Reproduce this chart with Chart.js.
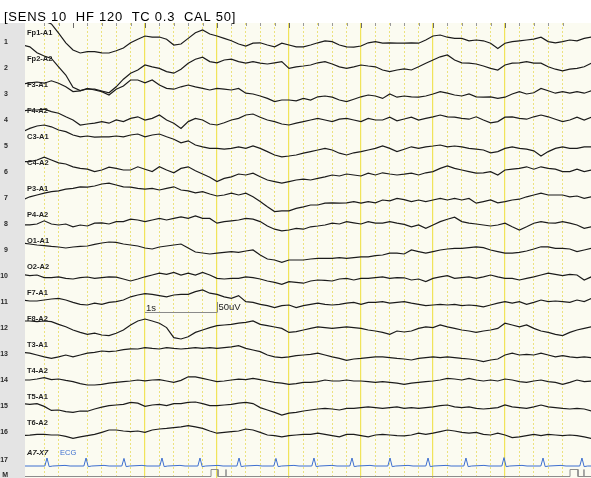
<!DOCTYPE html>
<html>
<head>
<meta charset="utf-8">
<script src="https://cdn.jsdelivr.net/npm/chart.js@4.4.1/dist/chart.umd.min.js"></script>
<style>
  html, body { margin: 0; padding: 0; background: #fff; }
  #wrap { width: 591px; height: 478px; }
</style>
</head>
<body>
<div id="wrap"><canvas id="eeg" width="591" height="478"></canvas></div>
<script>
// montage rows, top to bottom
const channelNames = ['Fp1-A1', 'Fp2-A2', 'F3-A1', 'F4-A2', 'C3-A1', 'C4-A2', 'P3-A1', 'P4-A2',
                      'O1-A1', 'O2-A2', 'F7-A1', 'F8-A2', 'T3-A1', 'T4-A2', 'T5-A1', 'T6-A2'];
const rowNumbers = ['1', '2', '3', '4', '5', '6', '7', '8', '9', '10', '11', '12', '13', '14', '15', '16', '17', 'M'];
const headerText = '[SENS 10  HF 120  TC 0.3  CAL 50]';

// EEG samples: one every 0.1 s starting at 0.3 s, values in uV
const sampleStart = 0.3;
const sampleStep = 0.1;

const fp1 = [160,145,125,105,90,44,-4,-40,-55,-48, -48,-54,-55,-44,-30,-4,14,30,24,25,
             14,-15,-10,18,46,60,40,30,18,6, -10,-20,-6,-4,-15,-24,-6,-15,-24,-24,
             -15,-4,6,2,-15,-24,-26,-20,-4,2, -6,-4,-6,-6,-4,-6,10,30,35,24,
             18,18,6,10,6,-6,-32,-6,2,6, 10,14,24,2,-4,2,10,6,18,25];
const fp2 = [115,106,76,60,48,6,-35,-96,-113,-105, -106,-115,-124,-94,-56,-26,-10,15,6,-2,
             -18,-26,-6,24,44,54,32,26,40,44, 32,24,32,24,20,26,32,-2,6,10,
             15,26,32,20,6,-2,6,15,10,6, -10,-18,-10,-4,-10,6,24,40,56,65,
             40,26,24,20,10,-2,-10,15,24,26, 32,24,24,6,-6,-14,-6,-2,6,24];
const f3 = [50,56,60,54,66,54,36,12,16,28, 20,12,-5,24,40,70,70,56,70,45,
            28,24,36,45,36,28,20,28,24,20, 28,4,0,-10,-22,-38,-30,-30,-34,-22,
            -30,-14,-10,-16,-30,-38,-26,-14,-5,-10, -22,0,-16,-10,-14,-16,-10,0,12,4,
            -5,-10,0,-14,-16,-14,-22,-16,0,12, 0,6,28,16,4,12,4,12,4,16];
const f4 = [46,50,50,54,42,34,16,0,-25,-20, -16,-8,-16,0,-8,8,16,0,8,25,
            0,-16,-42,-8,8,0,-20,-25,-14,0, 8,25,30,14,0,-8,-20,-25,-16,-8,
            0,8,0,-8,4,8,0,-8,8,0, 0,14,-4,5,14,0,8,16,25,16,
            14,8,4,16,0,-14,-8,14,16,8, 4,16,25,16,4,-8,0,14,0,14];
const c3 = [72,88,100,105,96,80,72,55,46,50, 44,46,46,50,46,55,60,46,55,60,
            46,34,16,26,5,-4,-12,-12,-16,-12, -4,-12,0,-12,-28,-45,-54,-50,-45,-36,
            -28,-20,-12,-20,-36,-45,-34,-28,-20,-12, 0,-12,-28,-16,-4,-12,-4,0,5,-4,
            0,-4,-12,-16,-20,-34,-28,-12,-4,-12, -16,-24,-50,-28,-12,-4,-12,-12,-4,-4];
const c4 = [52,52,60,74,60,46,40,26,18,14, 2,10,24,18,10,10,26,14,2,26,
            10,-4,18,26,6,-10,-26,-48,-32,-24, -10,-15,-6,-24,-40,-48,-56,-48,-40,-36,
            -40,-32,-24,-15,-20,-10,-15,-20,-6,-15, -4,-10,-15,-11,-6,-15,-4,2,18,30,
            18,10,2,-6,-4,2,-15,10,14,18, 26,14,26,18,14,2,2,14,2,10];
const p3 = [-10,6,15,24,32,36,44,48,56,54, 60,70,74,65,56,54,48,44,48,40,
            48,56,40,36,26,32,20,10,15,24, 15,24,6,-18,-44,-68,-64,-64,-52,-44,
            -35,-35,-26,-24,-26,-24,-18,-26,-18,-24, -10,-14,-2,-8,-18,-10,-18,-10,-2,-10,
            -2,-10,-2,-26,-18,-10,-24,-18,-10,-6, 6,15,24,15,15,15,6,10,-2,6];
const p4 = [-5,-4,0,16,0,-5,0,-14,-5,-10, 4,6,0,12,12,24,20,12,20,28,
            20,28,36,28,40,28,28,4,12,16, 20,28,24,12,-10,-26,-34,-30,-22,-26,
            -14,-10,-5,4,0,12,6,0,12,4, 4,12,4,-2,-14,-5,-22,-5,12,24,
            34,12,4,0,-5,-10,-5,4,-14,-30, -14,4,12,6,4,12,4,-5,-22,-14];
const o1 = [35,30,25,22,18,15,10,15,18,20, 28,35,40,38,30,25,20,10,5,15,
            20,25,30,10,-10,-15,-20,-16,-12,-8, -12,-5,0,-25,-45,-50,-62,-50,-50,-50,
            -45,-42,-42,-42,-38,-42,-38,-34,-34,-28, -25,-16,-16,-20,0,-8,-16,-8,0,5,
            8,8,12,16,12,0,-8,-16,-16,-12, -5,5,16,16,8,8,5,-8,0,8];
const o2 = [8,2,5,-8,-8,-4,-12,-15,-8,-5, -12,-8,-4,-6,-15,-25,-15,-4,5,14,
            8,18,5,14,5,18,5,-12,-15,-12, -12,-4,-8,-15,-25,-32,-42,-28,-32,-36,
            -25,-20,-22,-25,-15,-12,-20,-12,-12,-8, -4,-12,-8,-9,-20,-15,-28,-12,-4,2,
            -12,-8,-4,-12,-4,5,-4,-12,-12,-20, -12,-4,5,14,8,2,8,5,-20,-4];
const f7 = [10,5,5,10,15,18,10,-2,-12,-15, -6,-12,-2,2,10,26,35,42,38,32,
            26,35,38,38,52,60,44,38,26,18, 32,2,-2,-12,-18,-28,-18,-15,-28,-18,
            -12,-6,-12,-15,-12,-6,-2,-12,-2,-2, 2,-6,-2,2,-6,-12,-18,-15,-12,-15,
            -12,-18,-15,-18,-24,-15,-6,2,-6,2, -12,-2,10,2,5,2,-2,10,2,18];
const f8 = [35,35,32,35,32,18,6,-10,-22,-32, -26,-35,-38,-26,-10,15,35,45,35,24,
            2,-48,-55,-44,-22,-10,2,12,15,18, 24,28,35,18,12,5,-2,-22,-18,-10,
            -2,6,2,-2,2,6,2,-2,-10,-15, -22,-32,-15,-20,-15,-2,6,2,15,6,
            -2,-10,-15,-22,-15,-10,-2,24,15,6, 15,-2,-15,-22,-32,-38,-22,-10,-2,6];
const t3 = [8,4,-5,-14,-22,-14,-5,-14,-5,4, 8,15,12,15,22,26,25,32,28,25,
            32,28,25,28,32,28,32,28,32,36, 42,28,20,12,-5,-14,-18,-14,-8,-5,
            -2,4,-5,-14,-22,-32,-25,-22,-18,-14, -14,-18,-22,-25,-30,-22,-18,-14,-18,-14,
            -18,-22,-25,-30,-38,-30,-25,-5,4,-5, -2,-5,4,-5,-14,-8,-14,-18,-14,-18];
const t4 = [0,0,5,12,2,5,-2,-8,-18,-25, -25,-22,-16,-12,-8,-5,0,-4,0,2,
            -5,-12,-2,16,16,8,0,-8,-5,0, 4,2,8,2,-5,-12,-16,-22,-18,-12,
            -12,-8,0,-5,-5,0,-5,-5,-8,-12, -8,-12,-16,-22,-16,-12,-8,-5,0,8,
            5,0,8,0,-5,0,-5,5,0,-8, -12,-5,0,-8,-12,-22,-12,0,-8,-5];
const t5 = [12,8,12,-2,-22,-20,-28,-32,-25,-26, -15,-6,2,5,8,18,14,-2,5,8,
            2,12,12,18,20,12,2,2,5,8, 14,18,12,-8,-20,-32,-45,-36,-32,-25,
            -20,-15,-12,-15,-20,-12,-12,-8,-4,-8, -12,-8,-4,-12,-8,-12,-8,-4,2,5,
            -4,-8,-4,-12,-15,-12,-8,5,-4,-8, -12,-4,5,-4,-8,-12,-15,-12,-15,-25];
const t6 = [-18,-16,-12,-12,-15,-15,-22,-32,-24,-18, -12,-2,10,10,5,2,5,-2,10,15,
            18,22,26,32,26,18,5,-6,-2,2, 5,15,10,-2,-15,-18,-24,-18,-15,-12,
            -12,-6,-12,-18,-24,-12,-12,-18,-24,-15, -12,-15,-18,-19,-15,-6,-12,-6,2,10,
            5,-2,-6,-2,-12,-15,-6,-15,-28,-24, -18,-12,-18,-12,-15,-18,-15,-18,-24,-32];

const eegTraces = [fp1, fp2, f3, f4, c3, c4, p3, p4, o1, o2, f7, f8, t3, t4, t5, t6];

// ECG (A7-X7), times in s, values in uV
const ecgTimes = [0.30,
  0.609,0.639,0.669,0.719,0.889,0.959,  1.151,1.181,1.211,1.261,1.431,1.501,
  1.678,1.708,1.738,1.788,1.958,2.028,  2.206,2.236,2.266,2.316,2.486,2.556,
  2.734,2.764,2.794,2.844,3.014,3.084,  3.276,3.306,3.336,3.386,3.556,3.626,
  3.789,3.819,3.849,3.899,4.069,4.139,  4.317,4.347,4.377,4.427,4.597,4.667,
  4.845,4.875,4.905,4.955,5.125,5.195,  5.373,5.403,5.433,5.483,5.653,5.723,
  5.901,5.931,5.961,6.011,6.181,6.251,  6.428,6.458,6.488,6.538,6.708,6.778,
  6.956,6.986,7.016,7.066,7.236,7.306,  7.498,7.528,7.558,7.608,7.778,7.848,
  8.039,8.069,8.099,8.149, 8.20];
const ecgValues = [0,
  0,40,-3,0,3,0,  0,40,-3,0,3,0,
  0,38,-3,0,3,0,  0,40,-3,0,3,0,
  0,40,-3,0,3,0,  0,40,-3,0,3,0,
  0,38,-3,0,3,0,  0,40,-3,0,3,0,
  0,40,-3,0,3,0,  0,40,-3,0,3,0,
  0,40,-3,0,3,0,  0,40,-3,0,3,0,
  0,42,-3,0,3,0,  0,40,-3,0,3,0,
  0,40,-3,0, 0];

// event marker channel (M)
const markTimes = [0.30, 2.917, 2.917, 3.014, 3.014, 3.125, 3.125, 3.125,
                   7.903, 7.903, 8.014, 8.014, 8.097, 8.097, 8.097, 8.20];
const markValues = [0, 0, 35, 35, 0, 0, 35, 0, 0, 35, 35, 0, 0, 35, 0, 0];

// layout of the page (uV / s)
const rowGap = 130;
const ecgRow = -2120;
const markRow = -2172.5;
const rowNumberPos = [0, -130, -260, -390, -520, -650, -780, -910, -1040, -1170, -1300, -1430,
                      -1560, -1690, -1820, -1950, -2090, -2165];
const yMin = -2180, yMax = 95;
const xMin = 1 / 3, xMax = 1 / 3 + 566 / 72;
const calStart = 2, calEnd = 3, calLevel = -1350, calHeight = 50;

const cream = '#fbfbf1';
const marginGray = '#e4e4e4';
const dotYellow = '#ece27e';
const solidYellow = '#f1e45a';

const isStep = (v, s) => Math.abs(v / s - Math.round(v / s)) < 1e-6;

const datasets = eegTraces.map((vals, ch) => ({
  label: channelNames[ch],
  data: vals.map((v, i) => ({ x: sampleStart + i * sampleStep, y: -ch * rowGap + v })),
  borderColor: '#1b1b1b',
  borderWidth: 1.2
}));
datasets.push({
  label: 'ECG',
  data: ecgValues.map((v, i) => ({ x: ecgTimes[i], y: ecgRow + v })),
  borderColor: '#3d6fd0',
  borderWidth: 1
});
datasets.push({
  label: 'M',
  data: markValues.map((v, i) => ({ x: markTimes[i], y: markRow + v })),
  borderColor: '#8c8c8c',
  borderWidth: 1
});

const paper = {
  id: 'paper',
  beforeDraw(chart) {
    const { ctx, chartArea: a } = chart;
    ctx.save();
    ctx.fillStyle = '#fff';
    ctx.fillRect(0, 0, chart.width, chart.height);
    ctx.fillStyle = marginGray;
    ctx.fillRect(0, a.top, a.left, a.bottom - a.top);
    ctx.fillStyle = cream;
    ctx.fillRect(a.left, a.top, a.right - a.left, a.bottom - a.top);
    ctx.fillStyle = '#000';
    ctx.font = '13px "Liberation Sans", Arial, sans-serif';
    if ('letterSpacing' in ctx) ctx.letterSpacing = '0.75px';
    ctx.textBaseline = 'alphabetic';
    ctx.fillText(headerText, 4, 21);
    ctx.restore();
  },
  beforeDatasetsDraw(chart) {
    const { ctx, chartArea: a, scales } = chart;
    const y = scales.y;
    ctx.save();
    ctx.textBaseline = 'middle';
    ctx.fillStyle = '#1e1e1e';
    ctx.font = 'bold 7.5px "Liberation Sans", Arial, sans-serif';
    channelNames.forEach((name, ch) => {
      ctx.fillText(name, a.left + 2, y.getPixelForValue(-ch * rowGap) - 9);
    });
    const ey = y.getPixelForValue(ecgRow) - 13;
    ctx.font = 'italic bold 7.5px "Liberation Sans", Arial, sans-serif';
    ctx.fillText('A7-X7', a.left + 2, ey);
    ctx.font = '7.5px "Liberation Sans", Arial, sans-serif';
    ctx.fillStyle = '#3d6fd0';
    ctx.fillText('ECG', a.left + 35, ey);
    ctx.restore();
  },
  afterDraw(chart) {
    const { ctx, chartArea: a, scales } = chart;
    const x = scales.x, y = scales.y;
    ctx.save();
    // tick row along the top edge
    x.ticks.forEach(t => {
      const px = Math.round(x.getPixelForValue(t.value)) + 0.5;
      const major = isStep(t.value, 1);
      ctx.strokeStyle = major ? '#6b6b6b' : '#9a9a9a';
      ctx.beginPath();
      ctx.moveTo(px, a.top);
      ctx.lineTo(px, a.top + (major ? 5 : 3));
      ctx.stroke();
    });
    // calibration: 1 s / 50 uV
    const x0 = x.getPixelForValue(calStart), x1 = x.getPixelForValue(calEnd);
    const y0 = Math.round(y.getPixelForValue(calLevel)) + 0.5;
    const y1 = y.getPixelForValue(calLevel + calHeight);
    ctx.strokeStyle = '#8a8a8a';
    ctx.beginPath();
    ctx.moveTo(x0, y0);
    ctx.lineTo(x1, y0);
    ctx.moveTo(Math.round(x1) + 0.5, y0);
    ctx.lineTo(Math.round(x1) + 0.5, y1);
    ctx.stroke();
    ctx.fillStyle = '#222';
    ctx.font = '9.5px "Liberation Sans", Arial, sans-serif';
    ctx.textBaseline = 'alphabetic';
    ctx.fillText('1s', x0 + 1, y0 - 1.5);
    ctx.fillText('50uV', x1 + 1.5, y0 - 2.5);
    ctx.restore();
  }
};

new Chart(document.getElementById('eeg'), {
  type: 'line',
  data: { datasets },
  plugins: [paper],
  options: {
    responsive: false,
    animation: false,
    events: [],
    layout: { padding: { top: 23, left: 0, right: 0, bottom: 0 } },
    elements: {
      point: { radius: 0 },
      line: { tension: 0, fill: false }
    },
    scales: {
      x: {
        type: 'linear', position: 'bottom', min: xMin, max: xMax,
        afterFit: s => { s.height = 0; s.paddingLeft = s.paddingRight = 0; },
        afterBuildTicks: s => { s.ticks = s.ticks.filter(t => isStep(t.value, 0.2)); },
        ticks: { stepSize: 0.2, display: false },
        grid: {
          color: c => (c.tick && isStep(c.tick.value, 1)) ? 'rgba(0,0,0,0)' : dotYellow,
          lineWidth: 1, drawTicks: false
        },
        border: { display: false, dash: [2, 2] }
      },
      x2: {
        type: 'linear', position: 'bottom', min: xMin, max: xMax,
        afterFit: s => { s.height = 0; s.paddingLeft = s.paddingRight = 0; },
        afterBuildTicks: s => { s.ticks = s.ticks.filter(t => isStep(t.value, 1)); },
        ticks: { stepSize: 1, display: false },
        grid: { color: solidYellow, lineWidth: 1.2, drawTicks: false },
        border: { display: false }
      },
      y: {
        type: 'linear', position: 'left', min: yMin, max: yMax,
        afterFit: s => { s.width = 25; s.paddingTop = 0; s.paddingBottom = 0; },
        afterBuildTicks: s => { s.ticks = rowNumberPos.map(v => ({ value: v })); },
        ticks: {
          autoSkip: false, padding: 17, crossAlign: 'near', color: '#2a2a2a',
          font: { size: 7, weight: 'bold', family: '"Liberation Sans", Arial, sans-serif' },
          callback: (v, i) => rowNumbers[i]
        },
        grid: { display: false, drawTicks: false },
        border: { display: false }
      }
    },
    plugins: {
      legend: { display: false },
      tooltip: { enabled: false }
    }
  }
});
</script>
</body>
</html>
